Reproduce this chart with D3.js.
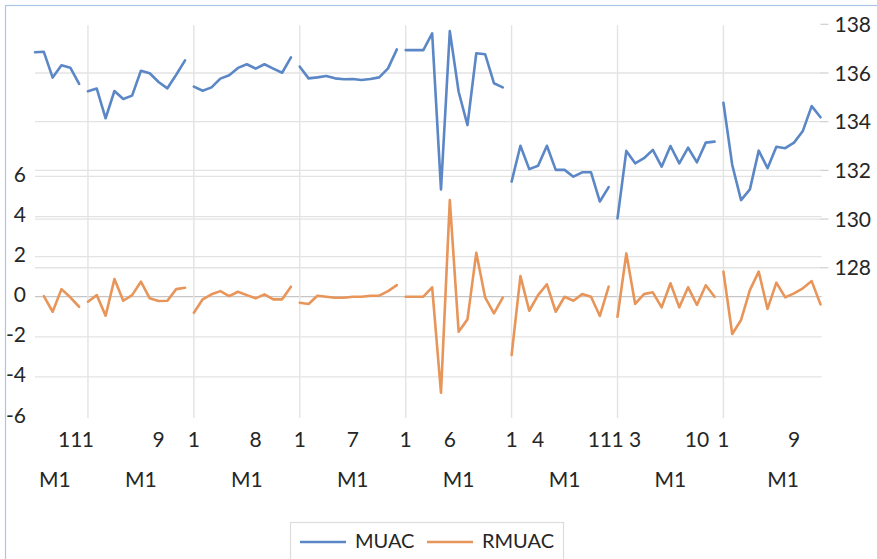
<!DOCTYPE html>
<html>
<head>
<meta charset="utf-8">
<script src="https://cdn.jsdelivr.net/npm/d3@7/dist/d3.min.js"></script>
<style>
  html, body { margin: 0; padding: 0; background: #fff; }
  svg { display: block; font-family: Lato, "Open Sans", sans-serif; }
</style>
</head>
<body>
<svg id="chart" width="877" height="559"></svg>
<script>
// ---------- DATA ----------
const groupNames = ["M1", "M1", "M1", "M1", "M1", "M1", "M1", "M1"];
const groupMonths = [
  [7, 8, 9, 10, 11, 12],
  [1, 2, 3, 4, 5, 6, 7, 8, 9, 10, 11, 12],
  [1, 2, 3, 4, 5, 6, 7, 8, 9, 10, 11, 12],
  [1, 2, 3, 4, 5, 6, 7, 8, 9, 10, 11, 12],
  [1, 2, 3, 4, 5, 6, 7, 8, 9, 10, 11, 12],
  [1, 2, 3, 4, 5, 6, 7, 8, 9, 10, 11, 12],
  [1, 2, 3, 4, 5, 6, 7, 8, 9, 10, 11, 12],
  [1, 2, 3, 4, 5, 6, 7, 8, 9, 10, 11, 12]
];
// category indices whose inner (month) label is displayed
const shownLabelIdx = [4, 6, 14, 18, 25, 30, 36, 42, 47, 54, 57, 64, 66, 68, 75, 78, 86];

const muac = [
  [136.85, 136.87, 135.81, 136.32, 136.22, 135.55],
  [135.25, 135.36, 134.14, 135.26, 134.93, 135.07, 136.09, 135.99, 135.63, 135.37, 135.93, 136.52],
  [135.44, 135.27, 135.41, 135.77, 135.91, 136.21, 136.36, 136.18, 136.36, 136.18, 136.01, 136.64],
  [136.26, 135.78, 135.82, 135.88, 135.78, 135.74, 135.75, 135.71, 135.75, 135.82, 136.19, 136.97],
  [136.94, 136.94, 136.94, 137.63, 131.22, 137.72, 135.23, 133.86, 136.81, 136.77, 135.58, 135.41],
  [131.54, 133.01, 132.05, 132.19, 133.01, 132.02, 132.02, 131.74, 131.92, 131.92, 130.72, 131.31],
  [130.03, 132.80, 132.29, 132.50, 132.84, 132.15, 133.00, 132.29, 132.93, 132.33, 133.14, 133.18],
  [134.78, 132.22, 130.78, 131.22, 132.81, 132.09, 132.97, 132.91, 133.14, 133.62, 134.64, 134.18]
];
const rmuac = [
  [null, 0.03, -0.75, 0.38, -0.03, -0.50],
  [-0.25, 0.08, -0.95, 0.88, -0.20, 0.08, 0.75, -0.08, -0.21, -0.20, 0.38, 0.45],
  [-0.80, -0.13, 0.12, 0.28, 0.03, 0.25, 0.08, -0.08, 0.12, -0.13, -0.13, 0.50],
  [-0.30, -0.36, 0.05, 0.00, -0.05, -0.05, 0.00, 0.00, 0.05, 0.05, 0.28, 0.58],
  [0.00, 0.00, 0.00, 0.47, -4.79, 4.82, -1.75, -1.13, 2.19, -0.03, -0.83, -0.05],
  [-2.91, 1.03, -0.70, 0.08, 0.62, -0.75, 0.00, -0.20, 0.13, 0.00, -0.96, 0.50],
  [-1.00, 2.16, -0.36, 0.13, 0.22, -0.53, 0.67, -0.53, 0.47, -0.41, 0.57, 0.00],
  [1.25, -1.86, -1.16, 0.33, 1.25, -0.61, 0.70, -0.03, 0.17, 0.42, 0.78, -0.38]
];
const leftTicks = [-6, -4, -2, 0, 2, 4, 6];
const rightTicks = [128, 130, 132, 134, 136, 138];
const seriesNames = ["MUAC", "RMUAC"];

// ---------- LAYOUT ----------
const W = 877, H = 559;
const plot = { left: 35, right: 820.5, top: 24.3, bottom: 417 };
const colors = { MUAC: "#5b87c6", RMUAC: "#e8955a" };
const gridColor = "#e3e3e3";
const svg = d3.select("#chart");

// category bookkeeping
const cats = [];
groupMonths.forEach((ms, g) => ms.forEach((m, j) => cats.push({ g, j, m })));
const groupStart = [];
{ let s = 0; groupMonths.forEach(ms => { groupStart.push(s); s += ms.length; }); }
const nCats = cats.length;

const x = d3.scaleLinear().domain([0, nCats - 1]).range([plot.left, plot.right]);
const step = x(1) - x(0);
const yL = d3.scaleLinear().domain([-6, 13.59]).range([plot.bottom, plot.top]);
const yR = d3.scaleLinear().domain([121.87, 138]).range([plot.bottom, plot.top]);

// chart area border
svg.append("rect").attr("x", 5.5).attr("y", 5.5).attr("width", W + 20).attr("height", H + 20)
  .attr("fill", "#fff").attr("stroke", "#a9c6e6").attr("stroke-width", 1.2);

// horizontal gridlines: left axis
svg.append("g").selectAll("line").data(leftTicks.filter(t => t > -6)).join("line")
  .attr("x1", plot.left).attr("x2", plot.right + 1)
  .attr("y1", d => yL(d)).attr("y2", d => yL(d))
  .attr("stroke", d => d === 0 ? "#c6c6c6" : gridColor).attr("stroke-width", 1.3);
// horizontal gridlines: right axis
svg.append("g").selectAll("line").data(rightTicks.filter(t => t < 138)).join("line")
  .attr("x1", plot.left).attr("x2", plot.right + 1)
  .attr("y1", d => yR(d)).attr("y2", d => yR(d))
  .attr("stroke", gridColor).attr("stroke-width", 1.3);
// vertical group separators
svg.append("g").selectAll("line").data(groupStart.slice(1)).join("line")
  .attr("x1", d => x(d)).attr("x2", d => x(d))
  .attr("y1", plot.top + 1).attr("y2", plot.bottom + 1)
  .attr("stroke", gridColor).attr("stroke-width", 1.4);

// right axis tick marks and labels
const rAxis = svg.append("g");
rAxis.selectAll("line").data(rightTicks).join("line")
  .attr("x1", plot.right).attr("x2", plot.right + 8)
  .attr("y1", d => yR(d)).attr("y2", d => yR(d))
  .attr("stroke", "#d0d0d0").attr("stroke-width", 1.2);
rAxis.selectAll("text").data(rightTicks).join("text")
  .attr("x", plot.right + 14).attr("y", d => yR(d)).attr("dy", "0.36em")
  .attr("font-size", 21).attr("fill", "#262626").text(d => d);

// left axis labels
svg.append("g").selectAll("text").data(leftTicks).join("text")
  .attr("x", 26).attr("y", d => yL(d) - 2).attr("dy", "0.36em").attr("text-anchor", "end")
  .attr("font-size", 21).attr("fill", "#262626").text(d => d);

// inner category labels
svg.append("g").selectAll("text").data(shownLabelIdx).join("text")
  .attr("x", d => x(d)).attr("y", 447).attr("text-anchor", "middle")
  .attr("font-size", 21).attr("fill", "#262626").text(d => cats[d].m);

// outer group labels
svg.append("g").selectAll("text").data(groupNames).join("text")
  .attr("x", (d, g) => {
    const s = groupStart[g], e = s + groupMonths[g].length;
    const a = g === 0 ? x(s) - 1.5 * step : x(s);
    const b = g === groupNames.length - 1 ? x(e - 1) + 2.5 * step : x(e);
    return (a + b) / 2;
  })
  .attr("y", 487).attr("text-anchor", "middle")
  .attr("font-size", 21).attr("fill", "#262626").text(d => d);

// series lines (broken between groups)
function drawSeries(data, scale, color) {
  const line = d3.line().defined(d => d.v != null).x(d => x(d.i)).y(d => scale(d.v));
  data.forEach((vals, g) => {
    const pts = vals.map((v, j) => ({ i: groupStart[g] + j, v }));
    svg.append("path").attr("d", line(pts)).attr("fill", "none")
      .attr("stroke", color).attr("stroke-width", 2.6)
      .attr("stroke-linejoin", "round").attr("stroke-linecap", "round");
  });
}
drawSeries(muac, yR, colors.MUAC);
drawSeries(rmuac, yL, colors.RMUAC);

// legend
const lg = svg.append("g");
lg.append("rect").attr("x", 290.5).attr("y", 522.5).attr("width", 273).attr("height", 60)
  .attr("fill", "#fff").attr("stroke", "#dcdcdc").attr("stroke-width", 1.2);
const legendX = [300, 427];
seriesNames.forEach((name, k) => {
  lg.append("line").attr("x1", legendX[k]).attr("x2", legendX[k] + 46)
    .attr("y1", 542).attr("y2", 542).attr("stroke", colors[name]).attr("stroke-width", 2.6);
  lg.append("text").attr("x", legendX[k] + 55).attr("y", 547.5)
    .attr("font-size", 20).attr("fill", "#262626").text(name);
});
</script>
</body>
</html>
